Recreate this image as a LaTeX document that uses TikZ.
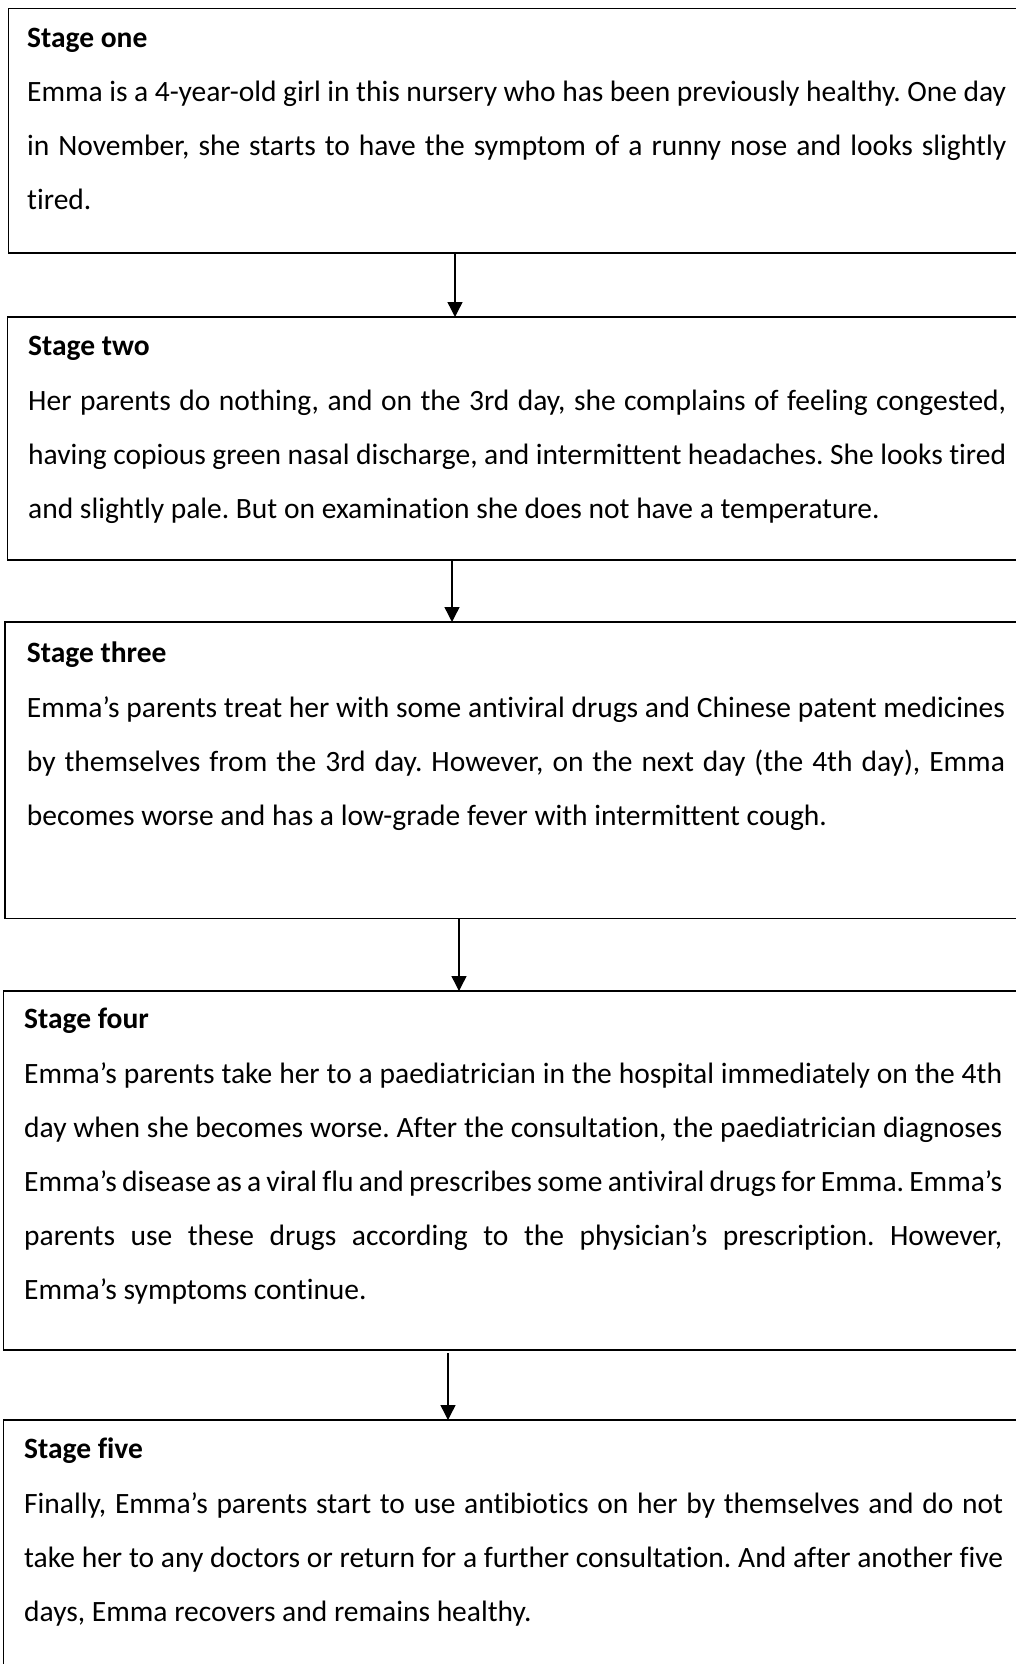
\documentclass[tikz,border=0pt]{standalone}
\usepackage{fontspec}
\setmainfont{Carlito}[Ligatures={NoCommon}]
\usetikzlibrary{arrows.meta}
\frenchspacing
\newcommand{\jline}[1]{\makebox[\linewidth][s]{#1}\\}
\newcommand{\bodytext}[2]{\begin{minipage}[t]{#1}\frenchspacing\fontsize{29.5pt}{54pt}\selectfont #2\end{minipage}}
\tikzset{
 stagebox/.style={draw=black, line width=1.6pt, outer sep=0pt, inner sep=0pt, anchor=north west, minimum width=1100pt},
 stagetitle/.style={anchor=base west, inner sep=0pt, font=\fontsize{29.5pt}{34pt}\selectfont\bfseries},
 stagebody/.style={anchor=base west, inner sep=0pt, align=left},
 flow/.style={-{Triangle[length=15pt,width=15pt]}, line width=1.4pt},
}
\begin{document}
\begin{tikzpicture}[x=1pt, y=-1pt]
\useasboundingbox (0,0) rectangle (1016,1664);
% boxes
\node[stagebox, minimum height=244.5pt] (b1) at (8.5,8.5) {};
\node[stagebox, minimum height=243pt] (b2) at (7.3,317) {};
\node[stagebox, minimum height=296.5pt] (b3) at (5,622) {};
\node[stagebox, minimum height=359pt] (b4) at (3.5,991) {};
\node[stagebox, minimum height=300pt] (b5) at (3.5,1420) {};
% titles
\node[stagetitle] (t1) at (27,47.5) {Stage one};
\node[stagetitle] (t2) at (28,355) {Stage two};
\node[stagetitle] (t3) at (26.7,662) {Stage three};
\node[stagetitle] (t4) at (24,1028) {Stage four};
\node[stagetitle] (t5) at (24,1458) {Stage five};
% bodies
\node[stagebody] (p1) at (27,101.5) {\bodytext{979pt}{%
\jline{Emma is a 4-year-old girl in this nursery who has been previously healthy. One day}
\jline{in November, she starts to have the symptom of a runny nose and looks slightly}
tired.}};
\node[stagebody] (p2) at (28,410) {\bodytext{978pt}{%
\jline{Her parents do nothing, and on the 3rd day, she complains of feeling congested,}
\jline{having copious green nasal discharge, and intermittent headaches. She looks tired}
and slightly pale. But on examination she does not have a temperature.}};
\node[stagebody] (p3) at (26.7,717) {\bodytext{978pt}{%
\jline{Emma’s parents treat her with some antiviral drugs and Chinese patent medicines}
\jline{by themselves from the 3rd day. However, on the next day (the 4th day), Emma}
becomes worse and has a low-grade fever with intermittent cough.}};
\node[stagebody] (p4) at (24,1083) {\bodytext{978pt}{%
\jline{Emma’s parents take her to a paediatrician in the hospital immediately on the 4th}
\jline{day when she becomes worse. After the consultation, the paediatrician diagnoses}
\jline{Emma’s disease as a viral flu and prescribes some antiviral drugs for Emma. Emma’s}
\jline{parents use these drugs according to the physician’s prescription. However,}
Emma’s symptoms continue.}};
\node[stagebody] (p5) at (24,1513) {\bodytext{979pt}{%
\jline{Finally, Emma’s parents start to use antibiotics on her by themselves and do not}
\jline{take her to any doctors or return for a further consultation. And after another five}
days, Emma recovers and remains healthy.}};
% arrows
\coordinate (a1) at (455,0);
\coordinate (a2) at (452,0);
\coordinate (a3) at (459,0);
\coordinate (a4) at (448,0);
\draw[flow] (b1.south -| a1) -- (b2.north -| a1);
\draw[flow] (b2.south -| a2) -- (b3.north -| a2);
\draw[flow] (b3.south -| a3) -- (b4.north -| a3);
\draw[flow, shorten <=3pt] (b4.south -| a4) -- (b5.north -| a4);
\end{tikzpicture}
\end{document}
